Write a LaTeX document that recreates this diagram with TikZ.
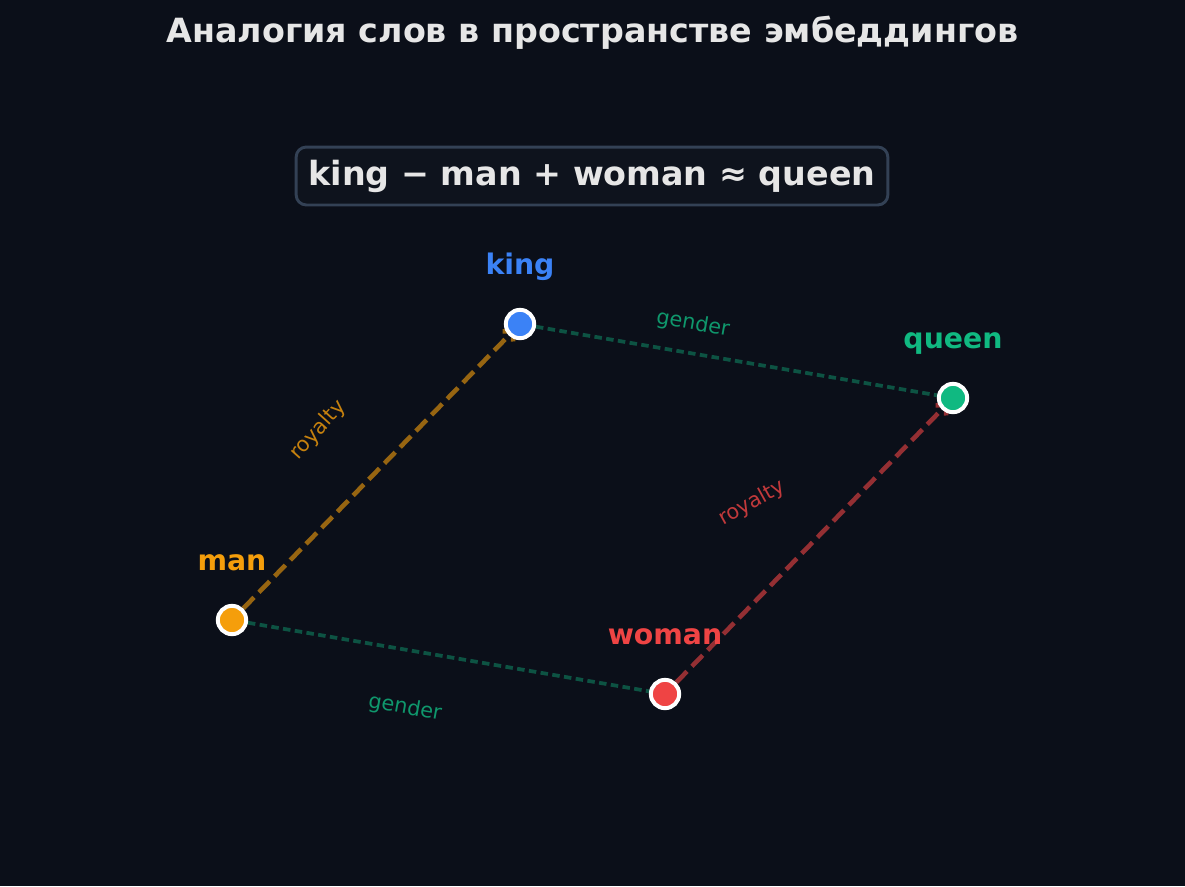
\documentclass[tikz,border=0pt]{standalone}
\usepackage{fontspec}
\setmainfont{DejaVu Sans}
\usetikzlibrary{calc}
\usetikzlibrary{arrows.meta}
\usetikzlibrary{backgrounds}
\definecolor{bgdark}{HTML}{0B0F19}
\definecolor{boxfill}{HTML}{0E131D}
\definecolor{boxline}{HTML}{334155}
\definecolor{titlegray}{HTML}{E6E6E6}
\definecolor{kingblue}{HTML}{3B82F6}
\definecolor{queengreen}{HTML}{10B981}
\definecolor{manorange}{HTML}{F59E0B}
\definecolor{womanred}{HTML}{EF4444}
\tikzset{
	word/.style={circle, draw=white, line width=1.9pt, inner sep=0pt, minimum size=13.6pt},
	wordtext/.style={anchor=base, font=\fontsize{13.6}{16}\selectfont\bfseries},
	edgetext/.style={font=\fontsize{10}{12}\selectfont},
	royal/.style={line width=2.2pt, dash pattern=on 7.4pt off 3.4pt, shorten >=-4.5pt, -{Straight Barb[length=3.5pt,width=7pt]}},
	gend/.style={line width=1.8pt, dash pattern=on 3.6pt off 2.1pt, draw=queengreen!40!bgdark},
}

\begin{document}
\begin{tikzpicture}[x=0.48pt, y=-0.48pt]
	% canvas 1185 x 886 px
	\useasboundingbox (0,0) rectangle (1185,886);

	% title and formula
	\node[anchor=base, text=titlegray, font=\fontsize{16}{19}\selectfont\bfseries] (title) at (592.5,42) {Аналогия слов в пространстве эмбеддингов};
	\node[draw=boxline, fill=boxfill, line width=1.4pt, rounded corners=4.8pt, minimum width=284pt, minimum height=27.8pt, text=titlegray, font=\fontsize{16}{19}\selectfont\bfseries] (formula) at (592,176) {king − man + woman ≈ queen};

	% word points
	\node[word, fill=kingblue] (king) at (520,324) {};
	\node[word, fill=queengreen] (queen) at (953,398) {};
	\node[word, fill=manorange] (man) at (232,620) {};
	\node[word, fill=womanred] (woman) at (665,694) {};

	\node[wordtext, text=kingblue] (kingtext) at ($(king)+(0,-50)$) {king};
	\node[wordtext, text=queengreen] (queentext) at ($(queen)+(0,-50)$) {queen};
	\node[wordtext, text=manorange] (mantext) at ($(man)+(0,-50)$) {man};
	\node[wordtext, text=womanred] (womantext) at ($(woman)+(0,-50)$) {woman};

	% offsets between words
	\begin{scope}[on background layer]
		\fill[bgdark] (0,0) rectangle (1185,886);
		\draw[royal, manorange!60!bgdark] (man) -- (king);
		\draw[royal, womanred!60!bgdark] (woman) -- (queen);
		\draw[gend] (king) -- (queen);
		\draw[gend] (man) -- (woman);
	\end{scope}

	\node[edgetext, text=manorange!80!bgdark, rotate=48] (royaltyA) at (318,430) {royalty};
	\node[edgetext, text=womanred!80!bgdark, rotate=29] (royaltyB) at (752,503) {royalty};
	\node[edgetext, text=queengreen!80!bgdark, rotate=-10] (genderA) at (693,324) {gender};
	\node[edgetext, text=queengreen!80!bgdark, rotate=-10] (genderB) at (405,708) {gender};
\end{tikzpicture}
\end{document}
